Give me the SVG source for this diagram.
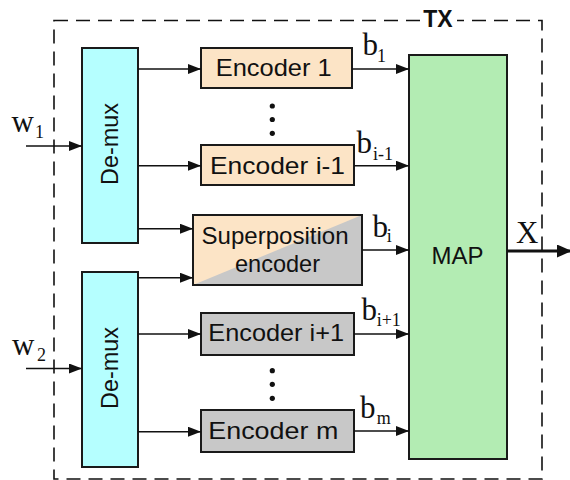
<svg xmlns="http://www.w3.org/2000/svg" width="570" height="480" viewBox="0 0 570 480">
<style>
.box{stroke:#1a1a1a;stroke-width:2}
.enc{fill:#fce4c6}
.gray{fill:#c8c8c8}
.dmx{fill:#b5ffff}
.map{fill:#b3ecb3}
.lbl{font-family:"Liberation Sans",Arial,sans-serif;font-size:24px;fill:#111}
.math{font-family:"Liberation Serif","Times New Roman",serif;font-size:31px;fill:#111}
.sub{font-family:"Liberation Serif","Times New Roman",serif;font-size:18px;fill:#111}
.wire{stroke:#111;stroke-width:1.6;fill:none}
</style>
<defs>
<marker id="ah" markerUnits="userSpaceOnUse" markerWidth="14" markerHeight="11" refX="13" refY="5" orient="auto">
<path d="M0,0 L13,5 L0,10 z" fill="#111"/>
</marker>
<marker id="ahb" markerUnits="userSpaceOnUse" markerWidth="16" markerHeight="14" refX="15" refY="6.5" orient="auto">
<path d="M0,0 L15,6.5 L0,13 z" fill="#111"/>
</marker>
</defs>

<g id="tx-frame">
<rect x="54" y="20.5" width="488" height="458.5" fill="none" stroke="#111" stroke-width="1.6" stroke-dasharray="14 8"/>
<rect x="420" y="10" width="37" height="20" fill="#fff"/>
<text x="438" y="27" text-anchor="middle" font-family="'Liberation Sans',Arial,sans-serif" font-size="23" font-weight="bold" fill="#111">TX</text>
</g>

<g id="demux1">
<rect class="box dmx" x="82" y="48" width="56" height="195"/>
<text class="lbl" transform="translate(117.5,144) rotate(-90)" text-anchor="middle" font-size="25" textLength="82" lengthAdjust="spacingAndGlyphs">De-mux</text>
</g>
<g id="demux2">
<rect class="box dmx" x="82" y="272" width="56" height="195"/>
<text class="lbl" transform="translate(117.5,368) rotate(-90)" text-anchor="middle" font-size="25" textLength="82" lengthAdjust="spacingAndGlyphs">De-mux</text>
</g>

<g id="enc1">
<rect class="box enc" x="201" y="48" width="151" height="40"/>
<text class="lbl" x="215.7" y="76" textLength="116" lengthAdjust="spacingAndGlyphs">Encoder 1</text>
</g>
<g id="enc-i-1">
<rect class="box enc" x="201" y="145" width="153" height="40"/>
<text class="lbl" x="210" y="173.5" textLength="135" lengthAdjust="spacingAndGlyphs">Encoder i-1</text>
</g>
<g id="superposition">
<rect x="193" y="215" width="169" height="70" fill="#fce4c6"/>
<polygon points="193,285 362,215 362,285" fill="#c8c8c8"/>
<rect x="193" y="215" width="169" height="70" fill="none" stroke="#1a1a1a" stroke-width="2"/>
<text class="lbl" x="275" y="243.5" text-anchor="middle" textLength="147" lengthAdjust="spacingAndGlyphs">Superposition</text>
<text class="lbl" x="277.5" y="272" text-anchor="middle" textLength="85" lengthAdjust="spacingAndGlyphs">encoder</text>
</g>
<g id="enc-i+1">
<rect class="box gray" x="201" y="313" width="153" height="42"/>
<text class="lbl" x="208.3" y="341" textLength="135.7" lengthAdjust="spacingAndGlyphs">Encoder i+1</text>
</g>
<g id="enc-m">
<rect class="box gray" x="201" y="410" width="153" height="42"/>
<text class="lbl" x="208.3" y="438.5" textLength="130" lengthAdjust="spacingAndGlyphs">Encoder m</text>
</g>

<g id="dots" fill="#111">
<circle cx="272.3" cy="106" r="2.6"/>
<circle cx="272.3" cy="119.5" r="2.6"/>
<circle cx="272.3" cy="133.3" r="2.6"/>
<circle cx="272.3" cy="370.7" r="2.6"/>
<circle cx="272.3" cy="384.3" r="2.6"/>
<circle cx="272.3" cy="398.3" r="2.6"/>
</g>

<g id="map">
<rect class="box map" x="409" y="55" width="98" height="404"/>
<text class="lbl" x="457.5" y="263.5" text-anchor="middle" font-size="23">MAP</text>
</g>

<g id="connectors">
<line class="wire" x1="26" y1="146" x2="82" y2="146" marker-end="url(#ah)"/>
<line class="wire" x1="26" y1="368.5" x2="82" y2="368.5" marker-end="url(#ah)"/>
<line class="wire" x1="138" y1="69" x2="201" y2="69" marker-end="url(#ah)"/>
<line class="wire" x1="138" y1="165.7" x2="201" y2="165.7" marker-end="url(#ah)"/>
<line class="wire" x1="138" y1="228.7" x2="193" y2="228.7" marker-end="url(#ah)"/>
<line class="wire" x1="138" y1="277.7" x2="193" y2="277.7" marker-end="url(#ah)"/>
<line class="wire" x1="138" y1="334" x2="201" y2="334" marker-end="url(#ah)"/>
<line class="wire" x1="138" y1="431.7" x2="201" y2="431.7" marker-end="url(#ah)"/>
<line class="wire" x1="352" y1="69" x2="409" y2="69" marker-end="url(#ah)"/>
<line class="wire" x1="354" y1="165.7" x2="409" y2="165.7" marker-end="url(#ah)"/>
<line class="wire" x1="362" y1="250" x2="409" y2="250" marker-end="url(#ah)"/>
<line class="wire" x1="354" y1="334" x2="409" y2="334" marker-end="url(#ah)"/>
<line class="wire" x1="354" y1="431" x2="409" y2="431" marker-end="url(#ah)"/>
<line x1="507" y1="251" x2="572" y2="251" stroke="#111" stroke-width="3" marker-end="url(#ahb)"/>
</g>

<g id="labels">
<text class="math" x="11.5" y="131.7" font-size="30">w</text><text class="sub" x="35" y="138.3" font-size="16">1</text>
<text class="math" x="12" y="355" font-size="30">w</text><text class="sub" x="37" y="361" font-size="16">2</text>
<text class="math" x="362.5" y="55">b</text><text class="sub" x="377" y="62" font-size="19">1</text>
<text class="math" x="356.5" y="153.3">b</text><text class="sub" x="373" y="159.5">i-1</text>
<text class="math" x="372.5" y="236.7">b</text><text class="sub" x="386.7" y="241.7">i</text>
<text class="math" x="361.5" y="320">b</text><text class="sub" x="376.7" y="326">i+1</text>
<text class="math" x="360" y="418.3">b</text><text class="sub" x="376.7" y="424.3">m</text>
<text class="math" x="516" y="243.3">X</text>
</g>
</svg>
